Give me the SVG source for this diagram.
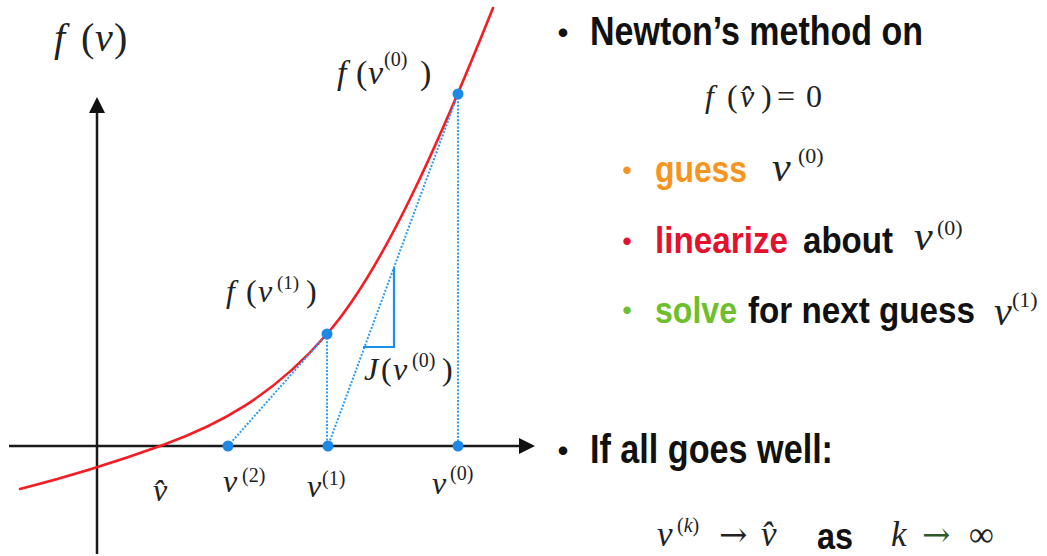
<svg xmlns="http://www.w3.org/2000/svg" width="1047" height="556" viewBox="0 0 1047 556">
<style>
.axis{stroke:#1a1a1a;stroke-width:2.5;fill:none}
.curve{stroke:#f51c24;stroke-width:2.6;fill:none;stroke-linecap:round}
.dot{stroke:#2c9cf4;stroke-width:2;stroke-dasharray:2 1.6;fill:none}
.tri{stroke:#1b8ef0;stroke-width:2.2;fill:none}
.pt{fill:#1d88e6}
.m{font-family:"Liberation Serif","DejaVu Serif",serif;fill:#222}
.i{font-style:italic}
.ar{font-family:"DejaVu Serif","Liberation Serif",serif;font-style:normal}
.s{font-family:"Liberation Sans Narrow","Liberation Sans",Arial,sans-serif;font-weight:bold;fill:#111}
</style>
<defs>
<marker id="ah" viewBox="0 0 16 16" refX="0" refY="8" markerWidth="16" markerHeight="16" markerUnits="userSpaceOnUse" orient="auto">
<path d="M0,0 L16,8 L0,16 z" fill="#111"/>
</marker>
</defs>

<g id="axes">
<line class="axis" x1="97" y1="554" x2="97" y2="113" marker-end="url(#ah)"/>
<line class="axis" x1="9" y1="446" x2="519" y2="446" marker-end="url(#ah)"/>
</g>

<g id="curve">
<path class="curve" d="M20,489 C67.7,477 115.3,462.2 163,445 C217.7,425.3 272.3,396.9 327,334 C382.3,270.4 437.7,146.3 493,8"/>
</g>

<g id="connectors">
<line class="dot" x1="458" y1="94" x2="458" y2="446"/>
<line class="dot" x1="458" y1="94" x2="328" y2="446"/>
<line class="dot" x1="327" y1="334" x2="327" y2="446"/>
<line class="dot" x1="327" y1="334" x2="228" y2="446"/>
<polyline class="tri" points="394,268 394,347 363,347"/>
</g>

<g id="points">
<circle class="pt" cx="458" cy="94" r="5.5"/>
<circle class="pt" cx="327" cy="334" r="5.5"/>
<circle class="pt" cx="228" cy="446" r="5.5"/>
<circle class="pt" cx="328" cy="446" r="5.5"/>
<circle class="pt" cx="458" cy="446" r="5.5"/>
</g>

<g id="plot-labels">
<text class="m" font-size="40" y="51"><tspan class="i" x="54">f</tspan><tspan x="81">(</tspan><tspan class="i" x="95">v</tspan><tspan x="114">)</tspan></text>
<text class="m" font-size="34" y="84"><tspan class="i" x="337">f</tspan><tspan x="356">(</tspan><tspan class="i" x="368">v</tspan><tspan font-size="20" x="384" y="66">(0)</tspan><tspan x="420" y="84">)</tspan></text>
<text class="m" font-size="32" y="302"><tspan class="i" x="226">f</tspan><tspan x="246">(</tspan><tspan class="i" x="258">v</tspan><tspan font-size="19" x="277" y="289">(1)</tspan><tspan x="306" y="302">)</tspan></text>
<text class="m" font-size="32" y="380"><tspan class="i" x="364">J</tspan><tspan x="381">(</tspan><tspan class="i" x="393">v</tspan><tspan font-size="20" x="412" y="367">(0)</tspan><tspan x="442" y="380">)</tspan></text>
<text class="m i" font-size="32" x="153" y="501">v̂</text>
<text class="m" font-size="32" y="492"><tspan class="i" x="223">v</tspan><tspan font-size="20" x="242" y="482">(2)</tspan></text>
<text class="m" font-size="32" y="497"><tspan class="i" x="307">v</tspan><tspan font-size="20" x="322" y="485">(1)</tspan></text>
<text class="m" font-size="32" y="494"><tspan class="i" x="432">v</tspan><tspan font-size="20" x="450" y="480">(0)</tspan></text>
</g>

<g id="text-block">
<text class="s" font-size="30" x="563" y="43" text-anchor="middle">•</text>
<text class="s" font-size="40" x="590" y="45" textLength="333" lengthAdjust="spacingAndGlyphs">Newton’s method on</text>

<text class="m" font-size="32" y="107"><tspan class="i" x="705">f</tspan><tspan x="727">(</tspan><tspan class="i" x="740">v̂</tspan><tspan x="761">)</tspan><tspan x="777">=</tspan><tspan x="806">0</tspan></text>

<text class="s" font-size="26" x="627" y="179" text-anchor="middle" style="fill:#f7941d">•</text>
<text class="s" font-size="36" x="655" y="182" textLength="92" lengthAdjust="spacingAndGlyphs" style="fill:#f7941d">guess</text>
<text class="m" font-size="42" y="181"><tspan class="i" x="772">v</tspan><tspan font-size="22" x="798" y="163">(0)</tspan></text>

<text class="s" font-size="26" x="627" y="250" text-anchor="middle" style="fill:#e3102e">•</text>
<text class="s" font-size="36" x="655" y="253" textLength="133" lengthAdjust="spacingAndGlyphs" style="fill:#e3102e">linearize</text>
<text class="s" font-size="36" x="803" y="253" textLength="90" lengthAdjust="spacingAndGlyphs">about</text>
<text class="m" font-size="42" y="250"><tspan class="i" x="914">v</tspan><tspan font-size="22" x="937" y="235">(0)</tspan></text>

<text class="s" font-size="26" x="627" y="319" text-anchor="middle" style="fill:#6dbf2b">•</text>
<text class="s" font-size="36" x="655" y="323" textLength="82" lengthAdjust="spacingAndGlyphs" style="fill:#6dbf2b">solve</text>
<text class="s" font-size="36" x="748" y="323" textLength="227" lengthAdjust="spacingAndGlyphs">for next guess</text>
<text class="m" font-size="40" y="325"><tspan class="i" x="994">v</tspan><tspan font-size="22" x="1012" y="307">(1)</tspan></text>

<text class="s" font-size="30" x="563" y="461" text-anchor="middle">•</text>
<text class="s" font-size="40" x="590" y="463" textLength="243" lengthAdjust="spacingAndGlyphs">If all goes well:</text>

<text class="m" font-size="35" y="546"><tspan class="i" x="657">v</tspan><tspan font-size="20" x="677" y="532">(<tspan class="i">k</tspan>)</tspan><tspan class="ar" font-size="34" x="719" y="546">→</tspan><tspan class="i" x="761" y="546">v̂</tspan></text>
<text class="s" font-size="36" x="817" y="549" textLength="36" lengthAdjust="spacingAndGlyphs">as</text>
<text class="m" font-size="35" y="546"><tspan class="i" x="891">k</tspan><tspan class="ar" font-size="34" x="922" y="546" style="fill:#2f5a2f">→</tspan><tspan x="969" y="546">∞</tspan></text>
</g>
</svg>
